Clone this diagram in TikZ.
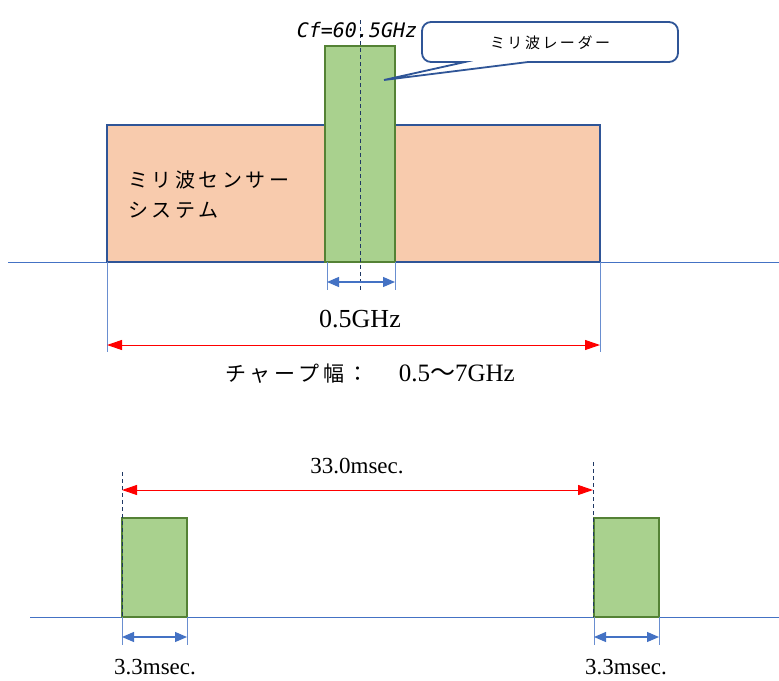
\documentclass[tikz,border=0pt]{standalone}
\usepackage{fontspec}
\setmainfont{Liberation Serif}
\newfontfamily\jp{Noto Sans CJK JP}
\newfontfamily\jpmono{DejaVu Sans Mono}
\usetikzlibrary{arrows.meta}
\definecolor{orangefill}{HTML}{F8CBAD}
\definecolor{navy}{HTML}{2F5597}
\definecolor{greenfill}{HTML}{A9D18E}
\definecolor{greenline}{HTML}{548235}
\definecolor{lblue}{HTML}{4472C4}
\definecolor{dnavy}{HTML}{1F3864}
\newcommand{\jsp}{\hspace{3.5pt}}
\tikzset{
  baseline/.style={draw=lblue, line width=0.8pt},
  extline/.style={draw=lblue!80, line width=0.7pt},
  band/.style={draw=navy, fill=orangefill, line width=1.8pt},
  pulse/.style={draw=greenline, fill=greenfill, line width=1.8pt},
  centerline/.style={draw=dnavy, dashed, dash pattern=on 4pt off 3pt, line width=0.8pt},
  bluedim/.style={draw=lblue, line width=1.2pt, {Triangle[length=12pt,width=10pt]}-{Triangle[length=12pt,width=10pt]}},
  reddim/.style={draw=red, line width=1pt, {Triangle[length=15pt,width=10pt]}-{Triangle[length=15pt,width=10pt]}},
  lbl/.style={font=\fontsize{23}{26}\selectfont, inner sep=0pt},
}
\begin{document}
\begin{tikzpicture}[x=1pt,y=-1pt]
\useasboundingbox (0,0) rectangle (779,680);
% ---------- top part ----------
\draw[baseline] (8,262) -- (779,262);
\draw[band] (107,125) rectangle (600,262);
\draw[pulse] (325,46) rectangle (395,262);
\draw[centerline] (360,20) -- (360,292);
\node[inner sep=0pt, font=\fontsize{20}{22}\selectfont\jpmono\itshape] (cf) at (357,30) {Cf=60.5GHz};
\node[anchor=west, inner sep=0pt, font=\fontsize{20}{24}\selectfont\jp, align=left] (sys) at (128,195) {ミ\jsp リ\jsp 波\jsp セ\jsp ン\jsp サ\jsp ー\\[6pt]シ\jsp ス\jsp テ\jsp ム};
% callout
\draw[draw=navy, fill=white, line width=1.8pt]
  (465,62) [rounded corners=9] -- (422,62) -- (422,22) -- (678,22) -- (678,62) [sharp corners] -- (528,62) -- (384,80) -- cycle;
\node[inner sep=0pt, font=\fontsize{15}{18}\selectfont\jp] (radar) at (550,43) {ミ\,リ\,波\,レ\,ー\,ダ\,ー};
% dims
\coordinate (g1) at (327,262); \coordinate (g2) at (395,262);
\draw[extline] (g1) -- ++(0,28) (g2) -- ++(0,28);
\coordinate (ga) at (327,282); \coordinate (gb) at (395,282);
\draw[bluedim] (ga) -- (gb);
\node[lbl, font=\fontsize{26}{28}\selectfont] (w1) at (360,319) {0.5GHz};
\coordinate (b1) at (107,262); \coordinate (b2) at (600,262);
\draw[extline] (b1) -- ++(0,90) (b2) -- ++(0,90);
\coordinate (ra) at (107,345); \coordinate (rb) at (600,345);
\draw[reddim] (ra) -- (rb);
\node[lbl, font=\fontsize{25}{28}\selectfont] (chirp) at (370,374) {{\jp\fontsize{21}{24}\selectfont チ\jsp ャ\jsp ー\jsp プ\jsp 幅\jsp ：}\hspace{30pt}0.5{\jp ～}7GHz};
% ---------- bottom part ----------
\draw[baseline] (30,617) -- (779,617);
\draw[pulse] (122,518) rectangle (187,617);
\draw[pulse] (594,518) rectangle (659,617);
\draw[centerline] (122,472) -- (122,617);
\draw[centerline] (593,462) -- (593,617);
\coordinate (pa) at (122,490); \coordinate (pb) at (593,490);
\draw[reddim] (pa) -- (pb);
\node[lbl] (per) at (357,466) {33.0msec.};
\draw[extline] (122,617) -- ++(0,28) (187,617) -- ++(0,28);
\draw[extline] (594,617) -- ++(0,28) (659,617) -- ++(0,28);
\coordinate (d1) at (122,637); \coordinate (d2) at (187,637);
\coordinate (d3) at (594,637); \coordinate (d4) at (659,637);
\draw[bluedim] (d1) -- (d2);
\draw[bluedim] (d3) -- (d4);
\node[lbl] (t1) at (155,667) {3.3msec.};
\node[lbl] (t2) at (626,667) {3.3msec.};
\end{tikzpicture}
\end{document}
